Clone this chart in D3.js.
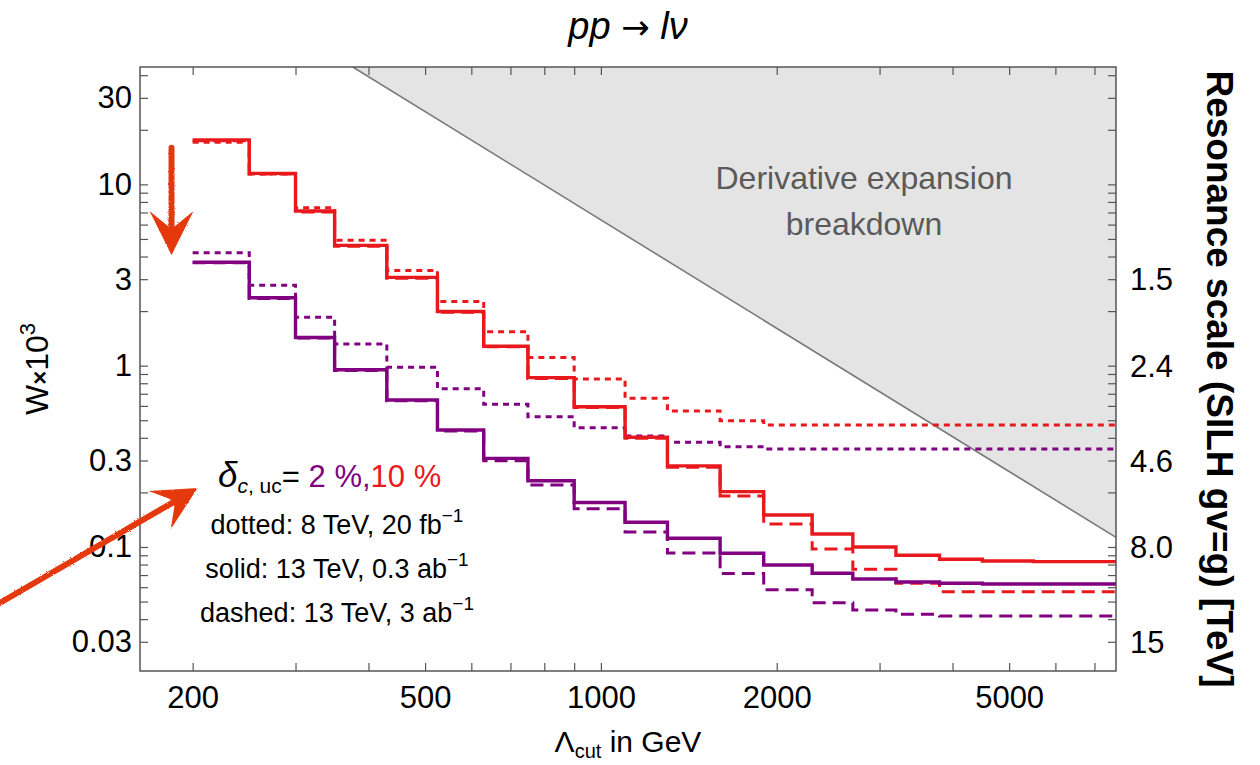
<!DOCTYPE html>
<html>
<head>
<meta charset="utf-8">
<script src="https://cdn.jsdelivr.net/npm/d3@7"></script>
<style>
body { margin: 0; background: #fff; }
svg { display: block; font-family: "Liberation Sans", Arial, sans-serif; }
</style>
</head>
<body>
<div id="chart"></div>
<script>
// bin edges of Lambda_cut (GeV); last edge runs to the frame
const lamEdges = [200, 250, 300, 350, 430, 525, 630, 750, 900, 1100, 1300, 1600, 1900, 2300, 2700, 3200, 3800, 4500, 5500, 7620];

// W x 10^3, delta = 10 % (red)
const redDotted = [17.1, 11.4, 7.44, 4.92, 3.35, 2.26, 1.54, 1.11, 0.845, 0.661, 0.563, 0.497, 0.471, 0.471, 0.471, 0.471, 0.471, 0.471, 0.471];
const redSolid = [17.6, 11.5, 7.13, 4.61, 3.07, 1.99, 1.28, 0.859, 0.594, 0.403, 0.280, 0.202, 0.150, 0.118, 0.100, 0.090, 0.0855, 0.0837, 0.083];
const redDashed = [17.4, 11.4, 7.05, 4.56, 3.04, 1.97, 1.27, 0.85, 0.588, 0.398, 0.275, 0.191, 0.134, 0.0975, 0.0753, 0.0631, 0.0567, 0.0567, 0.0567];

// W x 10^3, delta = 2 % (purple)
const purpleDotted = [4.20, 2.78, 1.85, 1.317, 0.98, 0.747, 0.612, 0.523, 0.455, 0.409, 0.378, 0.357, 0.347, 0.347, 0.347, 0.347, 0.347, 0.347, 0.347];
const purpleSolid = [3.72, 2.37, 1.43, 0.95, 0.647, 0.442, 0.308, 0.232, 0.176, 0.137, 0.1117, 0.0923, 0.0796, 0.0716, 0.0666, 0.0641, 0.0631, 0.0625, 0.0625];
const purpleDashed = [3.70, 2.35, 1.42, 0.94, 0.64, 0.436, 0.299, 0.22, 0.1626, 0.121, 0.0927, 0.0714, 0.0581, 0.0493, 0.0449, 0.0425, 0.0416, 0.0416, 0.0416];

// derivative expansion breakdown boundary (two ends of the straight line)
const breakLam = [376, 7620];
const breakW = [44.4, 0.113];

const yLabels = [30, 10, 3, 1, 0.3, 0.1, 0.03];
const xLabels = [200, 500, 1000, 2000, 5000];
const rightW = [3, 1, 0.3, 0.1, 0.03];
const rightText = ["1.5", "2.4", "4.6", "8.0", "15"];

// hand drawn arrows, [lambda, W] from tail to tip
const arrowDown = [[184, 15.9], [184, 4.08]];
const arrowDiag = [[93.5, 0.0491], [204, 0.2115]];

const red = "#e8191c", purple = "#800080", arrowCol = "#e5380f";

const margin = {top: 67, right: 144, bottom: 94, left: 140},
    width = 1260 - margin.left - margin.right,
    height = 765 - margin.top - margin.bottom;

const svg = d3.select("#chart")
    .append("svg")
    .attr("width", 1260)
    .attr("height", 765);

// rough edge for the hand drawn arrows
const rough = svg.append("defs").append("filter").attr("id", "rough")
    .attr("x", "-20%").attr("y", "-20%").attr("width", "140%").attr("height", "140%");
rough.append("feTurbulence").attr("type", "fractalNoise").attr("baseFrequency", 0.7)
    .attr("numOctaves", 2).attr("result", "noise");
rough.append("feDisplacementMap").attr("in", "SourceGraphic").attr("in2", "noise")
    .attr("scale", 2.2);

const g = svg.append("g")
    .attr("transform", "translate(" + margin.left + "," + margin.top + ")");

const x = d3.scaleLog().domain([162.5, 7620]).range([0, width]);
const y = d3.scaleLog().domain([0.0207, 44.4]).range([height, 0]);

g.append("clipPath").attr("id", "clip")
    .append("rect").attr("width", width).attr("height", height);

// shaded region
const shade = [[breakLam[0], breakW[0]], [breakLam[1], breakW[0]], [breakLam[1], breakW[1]]];
g.append("path")
    .attr("clip-path", "url(#clip)")
    .attr("d", "M" + shade.map(p => [x(p[0]), y(p[1])].join(",")).join("L") + "Z")
    .attr("fill", "#e4e4e4");
g.append("line")
    .attr("clip-path", "url(#clip)")
    .attr("x1", x(breakLam[0])).attr("y1", y(breakW[0]))
    .attr("x2", x(breakLam[1])).attr("y2", y(breakW[1]))
    .attr("stroke", "#7a7a7a").attr("stroke-width", 1.6);

g.append("text")
    .attr("x", 724).attr("y", 122)
    .attr("text-anchor", "middle")
    .attr("font-size", 32).attr("fill", "#5a5a5a")
    .text("Derivative expansion");
g.append("text")
    .attr("x", 724).attr("y", 168)
    .attr("text-anchor", "middle")
    .attr("font-size", 32).attr("fill", "#5a5a5a")
    .text("breakdown");

// step curves
const series = [
    {vals: redDotted, color: red, dash: "6,5"},
    {vals: purpleDotted, color: purple, dash: "6,5"},
    {vals: redDashed, color: red, dash: "13,7"},
    {vals: purpleDashed, color: purple, dash: "13,7"},
    {vals: redSolid, color: red, dash: null},
    {vals: purpleSolid, color: purple, dash: null}
];

const stepLine = d3.line()
    .x(d => x(d[0]))
    .y(d => y(d[1]))
    .curve(d3.curveStepAfter);

series.forEach(function (s) {
    const pts = s.vals.map((v, i) => [lamEdges[i], v]);
    pts.push([lamEdges[lamEdges.length - 1], s.vals[s.vals.length - 1]]);
    g.append("path")
        .datum(pts)
        .attr("clip-path", "url(#clip)")
        .attr("d", stepLine)
        .attr("fill", "none")
        .attr("stroke", s.color)
        .attr("stroke-width", s.dash ? 3 : 3.4)
        .attr("stroke-dasharray", s.dash);
});

// axes (ticks inside the frame)
const fmtY = d => yLabels.includes(+d.toPrecision(3)) ? String(+d.toPrecision(3)) : "";
const fmtX = d => xLabels.includes(Math.round(d)) ? String(Math.round(d)) : "";

const axL = g.append("g")
    .call(d3.axisLeft(y).tickSizeInner(-8).tickSizeOuter(0).tickPadding(8).tickFormat(fmtY));
const axR = g.append("g")
    .attr("transform", "translate(" + width + ",0)")
    .call(d3.axisRight(y).tickSizeInner(-8).tickSizeOuter(0).tickFormat(""));
const axB = g.append("g")
    .attr("transform", "translate(0," + height + ")")
    .call(d3.axisBottom(x).tickSizeInner(-8).tickSizeOuter(0).tickPadding(15).tickFormat(fmtX));
const axT = g.append("g")
    .call(d3.axisTop(x).tickSizeInner(-8).tickSizeOuter(0).tickFormat(""));

[axL, axR, axB, axT].forEach(function (a) {
    a.select(".domain").remove();
    a.selectAll("line").attr("stroke", "#555").attr("stroke-width", 1.2);
    a.selectAll("text").attr("font-size", 31).attr("fill", "#000")
        .attr("font-family", "'Liberation Sans', Arial, sans-serif");
});

g.append("rect")
    .attr("width", width).attr("height", height)
    .attr("fill", "none").attr("stroke", "#555").attr("stroke-width", 1.5);

// right labels
g.selectAll(".rlab")
    .data(rightW)
    .enter().append("text")
    .attr("class", "rlab")
    .attr("x", width + 14)
    .attr("y", d => y(d))
    .attr("dy", "0.36em")
    .attr("font-size", 31)
    .text((d, i) => rightText[i]);

// titles
const tt = svg.append("text")
    .attr("x", 628).attr("y", 39)
    .attr("text-anchor", "middle")
    .attr("font-size", 38).attr("font-style", "italic");
tt.append("tspan").text("pp ");
tt.append("tspan").attr("font-style", "normal").attr("font-family", "'DejaVu Sans', sans-serif")
    .attr("font-size", 34).text("\u2192");
tt.append("tspan").text(" l\u03bd");

const xl = svg.append("text")
    .attr("x", 628).attr("y", 752)
    .attr("text-anchor", "middle")
    .attr("font-size", 30);
xl.append("tspan").text("\u039b");
xl.append("tspan").attr("font-size", 20).attr("dy", 6).text("cut");
xl.append("tspan").attr("dy", -6).text(" in GeV");

const yl = svg.append("text")
    .attr("transform", "translate(48," + (margin.top + height / 2) + ") rotate(-90)")
    .attr("text-anchor", "middle")
    .attr("font-size", 32);
yl.append("tspan").text("W");
yl.append("tspan").attr("font-size", 24).attr("font-weight", "bold").text("\u00d7");
yl.append("tspan").text("10");
yl.append("tspan").attr("font-size", 22).attr("dy", -13).text("3");

svg.append("text")
    .attr("transform", "translate(1207," + (margin.top + height / 2 + 10) + ") rotate(90)")
    .attr("text-anchor", "middle")
    .attr("font-size", 37).attr("font-weight", "bold")
    .text("Resonance scale (SILH gv=g) [TeV]");

// legend text
const l1 = svg.append("text").attr("x", 218).attr("y", 487).attr("font-size", 31);
l1.append("tspan").attr("font-style", "italic").attr("font-size", 35).text("\u03b4");
l1.append("tspan").attr("font-style", "italic").attr("font-size", 21).attr("dy", 6).text("c");
l1.append("tspan").attr("font-size", 21).text(", uc");
l1.append("tspan").attr("dy", -6).text("=");
l1.append("tspan").attr("fill", purple).text(" 2 %,");
l1.append("tspan").attr("fill", red).text("10 %");

const legendLines = [
    {y: 534, main: "dotted: 8 TeV, 20 fb", sup: "\u22121"},
    {y: 578, main: "solid: 13 TeV, 0.3 ab", sup: "\u22121"},
    {y: 622, main: "dashed: 13 TeV, 3 ab", sup: "\u22121"}
];
legendLines.forEach(function (d) {
    const t = svg.append("text")
        .attr("x", 337).attr("y", d.y)
        .attr("text-anchor", "middle")
        .attr("font-size", 27);
    t.append("tspan").text(d.main);
    t.append("tspan").attr("font-size", 19).attr("dy", -12).text(d.sup);
});

// hand drawn arrows
function drawArrow(a) {
    const x0 = margin.left + x(a[0][0]), y0 = margin.top + y(a[0][1]),
        x1 = margin.left + x(a[1][0]), y1 = margin.top + y(a[1][1]);
    const ang = Math.atan2(y1 - y0, x1 - x0);
    const L = 44, W = 22, N = 26;
    const ux = Math.cos(ang), uy = Math.sin(ang);
    const px = -uy, py = ux;
    const ag = svg.append("g").attr("filter", "url(#rough)");
    ag.append("line")
        .attr("x1", x0).attr("y1", y0)
        .attr("x2", x1 - ux * N).attr("y2", y1 - uy * N)
        .attr("stroke", arrowCol).attr("stroke-width", 6)
        .attr("stroke-linecap", "round");
    const head = [
        [x1, y1],
        [x1 - ux * L + px * W, y1 - uy * L + py * W],
        [x1 - ux * N, y1 - uy * N],
        [x1 - ux * L - px * W, y1 - uy * L - py * W]
    ];
    ag.append("path")
        .attr("d", "M" + head.map(p => p.join(",")).join("L") + "Z")
        .attr("fill", arrowCol);
}
drawArrow(arrowDown);
drawArrow(arrowDiag);
</script>
</body>
</html>
